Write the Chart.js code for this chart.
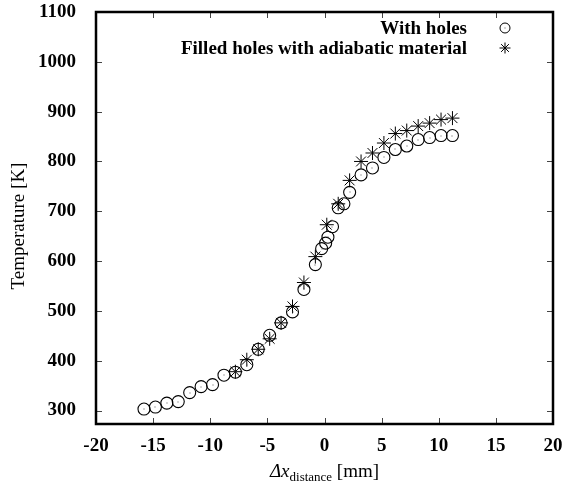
<!DOCTYPE html>
<html>
<head>
<meta charset="utf-8">
<title>Temperature profile</title>
<script src="https://cdn.jsdelivr.net/npm/chart.js@4.4.0/dist/chart.umd.min.js"></script>
<style>
  html, body { margin: 0; padding: 0; background: #fff; }
  #wrap { width: 563px; height: 488px; }
</style>
</head>
<body>
<div id="wrap"><canvas id="tempChart" width="563" height="488"></canvas></div>
<script>
const SERIF = "'Liberation Serif', 'Times New Roman', serif";

// With holes
const holesX = [-15.8, -14.8, -13.8, -12.8, -11.8, -10.8, -9.8, -8.8, -7.8, -6.8, -5.8, -4.8, -3.8, -2.8, -1.8,
  -0.8, -0.25, 0.1, 0.3, 0.7, 1.2, 1.7, 2.2, 3.2, 4.2, 5.2, 6.2, 7.2, 8.2, 9.2, 10.2, 11.2];
const holesT = [303, 307, 315, 318, 336, 348, 352, 371, 377, 392, 423, 451, 476, 498, 543,
  593, 625, 636, 648, 669, 707, 715, 738, 773, 787, 808, 824, 831, 844, 848, 852, 852];

// Filled holes with adiabatic material
const filledX = [-7.8, -6.8, -5.8, -4.8, -3.8, -2.8, -1.8, -0.8, 0.2, 1.2, 2.2, 3.2, 4.2, 5.2, 6.2, 7.2, 8.2, 9.2, 10.2, 11.2];
const filledT = [378, 402, 423, 444, 476, 509, 557, 609, 673, 715, 762, 800, 817, 837, 856, 862, 871, 877, 884, 887];

const seriesNames = ["With holes", "Filled holes with adiabatic material"];
const xTicks = [-20, -15, -10, -5, 0, 5, 10, 15, 20];
const yTicks = [300, 400, 500, 600, 700, 800, 900, 1000, 1100];

function toPoints(xs, ys) {
  return xs.map((x, i) => ({ x: x, y: ys[i] }));
}

// frame, mirrored inward ticks, circle centre dots, legend and axis titles
const decorations = {
  id: "decorations",
  afterDatasetsDraw(chart) {
    const ctx = chart.ctx;
    // small dot in the middle of every circle
    ctx.save();
    ctx.fillStyle = "#555";
    chart.getDatasetMeta(0).data.forEach(p => {
      ctx.fillRect(Math.round(p.x) - 0.5, Math.round(p.y) - 0.5, 1, 1);
    });
    ctx.restore();
  },
  afterDraw(chart) {
    const ctx = chart.ctx;
    const a = chart.chartArea;
    const xs = chart.scales.x;
    const ys = chart.scales.y;
    const tl = 6;

    ctx.save();
    ctx.strokeStyle = "#444";
    ctx.lineWidth = 1;
    ctx.beginPath();
    xTicks.forEach(v => {
      const px = Math.round(xs.getPixelForValue(v)) + 0.5;
      ctx.moveTo(px, a.bottom); ctx.lineTo(px, a.bottom - tl);
      ctx.moveTo(px, a.top); ctx.lineTo(px, a.top + tl);
    });
    yTicks.forEach(v => {
      const py = Math.round(ys.getPixelForValue(v)) + 0.5;
      ctx.moveTo(a.left, py); ctx.lineTo(a.left + tl, py);
      ctx.moveTo(a.right, py); ctx.lineTo(a.right - tl, py);
    });
    ctx.stroke();

    // border
    ctx.strokeStyle = "#000";
    ctx.lineWidth = 2.5;
    ctx.strokeRect(a.left, a.top, a.right - a.left, a.bottom - a.top);

    // legend: right-aligned text, marker on the right
    ctx.fillStyle = "#000";
    ctx.font = "bold 19px " + SERIF;
    ctx.textAlign = "right";
    ctx.textBaseline = "alphabetic";
    const textRight = 467;
    const markX = 505;
    const rows = [28, 48];
    ctx.fillText(seriesNames[0], textRight, rows[0] + 6);
    ctx.fillText(seriesNames[1], textRight, rows[1] + 6);

    ctx.lineWidth = 1;
    ctx.strokeStyle = "#000";
    ctx.beginPath();
    ctx.arc(markX, rows[0], 5, 0, Math.PI * 2);
    ctx.stroke();
    ctx.fillStyle = "#555";
    ctx.fillRect(markX - 0.5, rows[0] - 0.5, 1, 1);

    ctx.beginPath();
    const r = 5.5;
    for (let k = 0; k < 4; k++) {
      const ang = k * Math.PI / 4;
      ctx.moveTo(markX - r * Math.cos(ang), rows[1] - r * Math.sin(ang));
      ctx.lineTo(markX + r * Math.cos(ang), rows[1] + r * Math.sin(ang));
    }
    ctx.stroke();

    // y title
    ctx.fillStyle = "#000";
    ctx.save();
    ctx.translate(19, 226);
    ctx.rotate(-Math.PI / 2);
    ctx.font = "19px " + SERIF;
    ctx.textAlign = "center";
    ctx.textBaseline = "middle";
    ctx.fillText("Temperature [K]", 0, 0);
    ctx.restore();

    // x title: Δx with "distance" subscript
    const big = "19px " + SERIF;
    const bigIt = "italic 19px " + SERIF;
    const small = "13px " + SERIF;
    const parts = [
      { t: "\u0394x", f: bigIt, dy: 0 },
      { t: "distance", f: small, dy: 4 },
      { t: " [mm]", f: big, dy: 0 }
    ];
    let total = 0;
    parts.forEach(p => { ctx.font = p.f; p.w = ctx.measureText(p.t).width; total += p.w; });
    let cx = (a.left + a.right) / 2 - total / 2;
    const base = 477;
    ctx.textAlign = "left";
    ctx.textBaseline = "alphabetic";
    parts.forEach(p => {
      ctx.font = p.f;
      ctx.fillText(p.t, cx, base + p.dy);
      cx += p.w;
    });
    ctx.restore();
  }
};

new Chart(document.getElementById("tempChart"), {
  type: "scatter",
  data: {
    datasets: [
      {
        label: seriesNames[0],
        data: toPoints(holesX, holesT),
        pointStyle: "circle",
        pointRadius: 6,
        pointHoverRadius: 6,
        borderColor: "#000",
        backgroundColor: "rgba(0,0,0,0)",
        borderWidth: 1.1
      },
      {
        label: seriesNames[1],
        data: toPoints(filledX, filledT),
        pointStyle: "star",
        pointRadius: 7,
        pointHoverRadius: 7,
        borderColor: "#000",
        backgroundColor: "rgba(0,0,0,0)",
        borderWidth: 1
      }
    ]
  },
  options: {
    responsive: false,
    animation: false,
    events: [],
    layout: { padding: { top: 12, right: 10, left: 0, bottom: 0 } },
    plugins: {
      legend: { display: false },
      tooltip: { enabled: false },
      title: { display: false }
    },
    scales: {
      x: {
        type: "linear",
        min: -20,
        max: 20,
        grid: { display: false },
        border: { display: false },
        afterBuildTicks: s => { s.ticks = xTicks.map(v => ({ value: v })); },
        afterFit: s => { s.height = 64; s.paddingLeft = 0; s.paddingRight = 0; },
        ticks: {
          color: "#000",
          padding: 3,
          font: { family: SERIF, size: 19, weight: "bold" },
          maxRotation: 0,
          autoSkip: false,
          callback: v => String(v)
        }
      },
      y: {
        type: "linear",
        min: 273,
        max: 1100,
        grid: { display: false },
        border: { display: false },
        afterBuildTicks: s => { s.ticks = yTicks.map(v => ({ value: v })); },
        afterFit: s => { s.width = 96; s.paddingTop = 0; s.paddingBottom = 0; },
        ticks: {
          color: "#000",
          padding: 12,
          font: { family: SERIF, size: 19, weight: "bold" },
          autoSkip: false,
          callback: v => String(v)
        }
      }
    }
  },
  plugins: [decorations]
});
</script>
</body>
</html>
